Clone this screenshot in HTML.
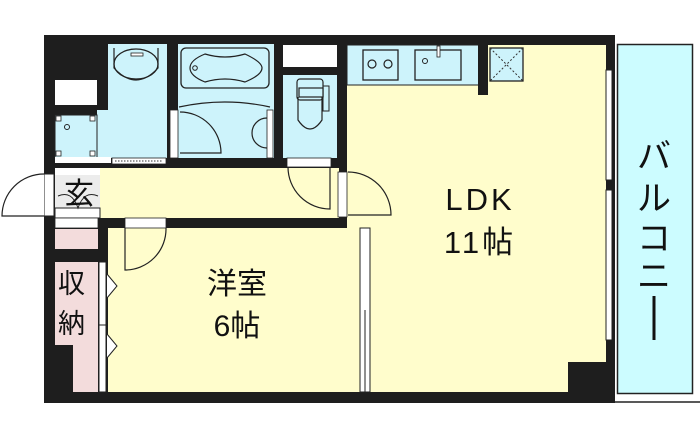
<!DOCTYPE html>
<html><head><meta charset="utf-8"><style>
html,body{margin:0;padding:0;background:#fff;width:700px;height:437px;overflow:hidden}
svg{display:block}
text{font-family:"Liberation Sans","Noto Sans CJK JP",sans-serif;fill:#111}
</style></head><body>
<svg width="700" height="437" viewBox="0 0 700 437" xmlns="http://www.w3.org/2000/svg">
<rect x="612" y="36" width="88" height="367" fill="#fff"/>
<rect x="617.5" y="44.5" width="75" height="349" fill="#ccfcff" stroke="#222" stroke-width="1.5"/>
<line x1="607" y1="402" x2="700" y2="402" stroke="#222" stroke-width="1.5"/>
<rect x="44" y="35" width="571" height="368" fill="#1e1e1e"/>
<rect x="347" y="45" width="259" height="347" fill="#fffdcc"/>
<rect x="568" y="362" width="40" height="30" fill="#1e1e1e"/>
<rect x="347" y="45" width="132" height="40" fill="#cdf3fb" stroke="#222" stroke-width="1"/>
<rect x="478" y="45" width="10" height="50" fill="#1e1e1e"/>
<rect x="363" y="50" width="35" height="30" fill="#cdf3fb" stroke="#222" stroke-width="1.3"/>
<circle cx="372" cy="64" r="4" fill="none" stroke="#222" stroke-width="1.2"/>
<circle cx="388" cy="64" r="4" fill="none" stroke="#222" stroke-width="1.2"/>
<rect x="415" y="50" width="46" height="30" fill="#cdf3fb" stroke="#222" stroke-width="1.3"/>
<circle cx="425" cy="61" r="2.5" fill="none" stroke="#222"/>
<rect x="437" y="46" width="3" height="11" fill="#fff" stroke="#222" stroke-width=".8"/>
<rect x="490" y="48" width="33" height="33" fill="#cdf3fb" stroke="#222" stroke-width="1.3"/>
<line x1="490" y1="48" x2="523" y2="81" stroke="#333" stroke-dasharray="2,2"/>
<line x1="523" y1="48" x2="490" y2="81" stroke="#333" stroke-dasharray="2,2"/>
<rect x="606" y="70" width="6" height="110" fill="#fff" stroke="#222" stroke-width="1"/>
<rect x="606" y="190" width="6" height="150" fill="#fff" stroke="#222" stroke-width="1"/>
<rect x="100" y="168" width="239" height="50" fill="#fffdcc"/>
<rect x="55" y="168" width="45" height="50" fill="#ececec"/>
<rect x="55" y="168" width="45" height="7" fill="#fff"/>
<rect x="55" y="208" width="45" height="10" fill="#fff" stroke="#222" stroke-width="1"/>
<path d="M58 196 Q72 190 78 208 Q84 190 98 196" fill="none" stroke="#222" stroke-width="1"/>
<rect x="44" y="174" width="10" height="42" fill="#fff" stroke="#222" stroke-width="1"/>
<path d="M44 174 A42 42 0 0 0 2 216 L44 216" fill="#fff" stroke="#222" stroke-width="1.2"/>
<rect x="108" y="44" width="59" height="114" fill="#cdf3fb"/>
<rect x="97" y="110" width="12" height="48" fill="#cdf3fb"/>
<ellipse cx="136" cy="64" rx="22" ry="15" fill="none" stroke="#222" stroke-width="1.3"/>
<path d="M114 48 L114 68 Q136 92 158 68 L158 48" fill="none" stroke="#222" stroke-width="1.2"/>
<rect x="131" y="53" width="12" height="3" fill="#fff" stroke="#222" stroke-width=".8"/>
<rect x="55" y="115" width="42" height="43" fill="#cdf3fb" stroke="#222" stroke-width="1"/>
<rect x="56" y="116" width="5" height="5" fill="#fff" stroke="#222" stroke-width=".8"/>
<rect x="90" y="116" width="5" height="5" fill="#fff" stroke="#222" stroke-width=".8"/>
<rect x="56" y="151" width="5" height="5" fill="#fff" stroke="#222" stroke-width=".8"/>
<rect x="90" y="151" width="5" height="5" fill="#fff" stroke="#222" stroke-width=".8"/>
<circle cx="67" cy="127" r="2.5" fill="none" stroke="#222"/>
<rect x="55" y="80" width="42" height="25" fill="#fff"/>
<rect x="55" y="157" width="56" height="6" fill="#fff"/>
<rect x="112" y="158" width="54" height="6" fill="#fff" stroke="#222" stroke-width=".8"/>
<line x1="115" y1="161" x2="163" y2="161" stroke="#333" stroke-dasharray="1.5,1.5"/>
<rect x="178" y="44" width="96" height="114" fill="#cdf3fb"/>
<rect x="181" y="48" width="88" height="40" rx="5" fill="none" stroke="#222" stroke-width="1.3"/>
<path d="M205 54 Q225 60 245 54 Q262 62 262 68 Q262 75 245 82 Q225 76 205 82 Q190 76 190 68 Q190 60 205 54Z" fill="none" stroke="#222" stroke-width="1.2"/>
<circle cx="195" cy="68" r="2.3" fill="none" stroke="#222"/>
<path d="M179 107 Q225 97 270 107" fill="none" stroke="#222" stroke-width="1.2"/>
<rect x="170" y="110" width="8" height="48" fill="#fff" stroke="#222" stroke-width=".8"/>
<path d="M180 112 A41 41 0 0 1 221 153 L180 153" fill="none" stroke="#222" stroke-width="1.2"/>
<rect x="267" y="110" width="6" height="48" fill="#fff" stroke="#222" stroke-width=".8"/>
<path d="M267 118 A15 15 0 0 0 267 148" fill="none" stroke="#222" stroke-width="1.2"/>
<rect x="283" y="45" width="54" height="22" fill="#fff"/>
<rect x="283" y="75" width="54" height="83" fill="#cdf3fb"/>
<rect x="297" y="79" width="26" height="21" rx="3" fill="none" stroke="#222" stroke-width="1.2"/>
<rect x="299" y="88" width="24" height="9" fill="#cdf3fb" stroke="#222" stroke-width="1.2"/>
<rect x="323" y="86" width="6" height="25" fill="none" stroke="#222" stroke-width="1"/>
<path d="M298 97 L298 120 Q310 138 322 120 L322 97" fill="none" stroke="#222" stroke-width="1.2"/>
<rect x="287" y="158" width="44" height="9" fill="#fff" stroke="#222" stroke-width=".8"/>
<path d="M288 167 A42 42 0 0 0 330 209 L330 167" fill="none" stroke="#222" stroke-width="1.2"/>
<rect x="338" y="172" width="9" height="45" fill="#fff" stroke="#222" stroke-width=".8"/>
<path d="M348 172 A43 43 0 0 1 391 215 L348 215" fill="none" stroke="#222" stroke-width="1.2"/>
<rect x="108" y="228" width="252" height="164" fill="#fffdcc"/>
<rect x="360" y="228" width="10" height="164" fill="#fff" stroke="#222" stroke-width="1"/>
<line x1="365" y1="310" x2="365" y2="392" stroke="#222"/>
<rect x="125" y="218" width="41" height="10" fill="#fff" stroke="#222" stroke-width=".8"/>
<path d="M125 228 L125 270 A41 41 0 0 0 166 228" fill="none" stroke="#222" stroke-width="1.2"/>
<rect x="55" y="229" width="43" height="20" fill="#f3dcdc"/>
<rect x="55" y="218" width="43" height="10" fill="#fff" stroke="#222" stroke-width=".8"/>
<rect x="55" y="262" width="43" height="130" fill="#f3dcdc"/>
<rect x="55" y="345" width="18" height="47" fill="#1e1e1e"/>
<rect x="99" y="262" width="7" height="130" fill="#fff" stroke="#222" stroke-width="1"/>
<line x1="99" y1="325" x2="106" y2="325" stroke="#222"/>
<path d="M107 274 L117 286 L107 298" fill="#fff" stroke="#222"/>
<path d="M107 334 L117 346 L107 358" fill="#fff" stroke="#222"/>
<text x="64" y="204" font-size="30">玄</text>
<text x="58" y="293" font-size="27">収</text>
<text x="58" y="333" font-size="27">納</text>
<text x="237" y="294" font-size="30" text-anchor="middle">洋室</text>
<text x="237" y="336" font-size="30" text-anchor="middle">6帖</text>
<text x="480" y="210" font-size="31" text-anchor="middle" letter-spacing="3">LDK</text>
<text x="480" y="253" font-size="31" text-anchor="middle" letter-spacing="3">11帖</text>
<text x="654" y="168" font-size="34" text-anchor="middle">バ</text>
<text x="654" y="210" font-size="34" text-anchor="middle">ル</text>
<text x="654" y="250" font-size="34" text-anchor="middle">コ</text>
<text x="654" y="288" font-size="34" text-anchor="middle">ニ</text>
<line x1="654" y1="296" x2="654" y2="340" stroke="#111" stroke-width="3"/>
</svg>
</body></html>
